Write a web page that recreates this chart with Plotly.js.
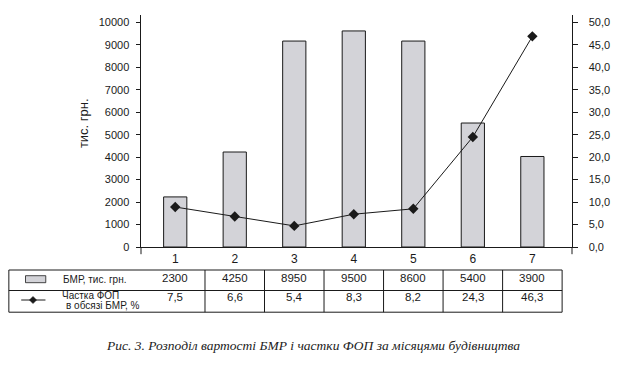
<!DOCTYPE html>
<html>
<head>
<meta charset="utf-8">
<script src="https://cdn.plot.ly/plotly-3.0.1.min.js"></script>
<style>
  html, body { margin: 0; padding: 0; background: #ffffff; }
  #chart { width: 618px; height: 366px; }
</style>
</head>
<body>
<div id="chart"></div>
<script>
// ---- data ----
const months = [1, 2, 3, 4, 5, 6, 7];
const monthLabels = ["1", "2", "3", "4", "5", "6", "7"];
// bar heights as drawn (тис. грн.)
const bmrBars = [2230, 4230, 9170, 9620, 9170, 5520, 4030];
// line points as drawn (%)
const fopLine = [8.9, 6.8, 4.7, 7.3, 8.5, 24.5, 46.9];
// values printed in the data table under the chart
const tableBmr = [2300, 4250, 8950, 9500, 8600, 5400, 3900];
const tableFop = [7.5, 6.6, 5.4, 8.3, 8.2, 24.3, 46.3];
const leftTicks = [0, 1000, 2000, 3000, 4000, 5000, 6000, 7000, 8000, 9000, 10000];
const rightTicks = [0, 5, 10, 15, 20, 25, 30, 35, 40, 45, 50];
const seriesBmrName = "БМР, тис. грн.";
const seriesFopName1 = "Частка ФОП";
const seriesFopName2 = "в обсязі БМР, %";
const yTitle = "тис. грн.";
const caption = "Рис. 3. Розподіл вартості БМР і частки ФОП за місяцями будівництва";

// ---- geometry ----
const W = 618, H = 366;
const L = 140.7, R = 45.5, T = 15.3, B = 118.7;
const plotW = W - L - R, plotH = H - T - B;
const xr = [0.425, 7.666];
const yr = [0, 10330];
const y2r = [0, 51.65];
const px = p => (p - L) / plotW;          // pixel x -> paper x
const py = p => (H - B - p) / plotH;      // pixel y -> paper y
const dx = v => (v - xr[0]) / (xr[1] - xr[0]); // data x -> paper x

const FONT = "Liberation Sans, Arial, sans-serif";
const INK = "#1a1a1a";
const BAR = "#d3d3d8";

const traces = [
  {
    type: "bar", x: months, y: bmrBars, width: 0.39,
    marker: { color: BAR, line: { color: INK, width: 1 } },
    hoverinfo: "skip"
  },
  {
    type: "scatter", mode: "lines+markers", x: months, y: fopLine, yaxis: "y2",
    line: { color: INK, width: 1 },
    marker: { symbol: "diamond", size: 8, color: INK },
    hoverinfo: "skip"
  }
];

// ---- table shapes ----
const tTop = 270.3, tMid = 290.8, tBot = 312.5, tLeft = 8.3;
const tRight = dx(7.5);
const shapes = [];
const hline = (yp) => shapes.push({ type: "line", xref: "paper", yref: "paper",
  x0: px(tLeft), x1: tRight, y0: py(yp), y1: py(yp), line: { color: INK, width: 1 } });
hline(tTop); hline(tMid); hline(tBot);
const vline = (xpaper) => shapes.push({ type: "line", xref: "paper", yref: "paper",
  x0: xpaper, x1: xpaper, y0: py(tTop), y1: py(tBot), line: { color: INK, width: 1 } });
vline(px(tLeft));
for (let i = 1; i <= 7; i++) vline(dx(months[i - 1] + 0.5));
// small cross marks at the axis ends (below the baseline)
shapes.push({ type: "line", xref: "paper", yref: "paper", x0: 0, x1: 0, y0: 0, y1: py(254.5), line: { color: INK, width: 1 } });
shapes.push({ type: "line", xref: "paper", yref: "paper", x0: 1, x1: 1, y0: 0, y1: py(254.5), line: { color: INK, width: 1 } });
// legend keys inside the table
shapes.push({ type: "rect", xref: "paper", yref: "paper",
  x0: px(25), x1: px(45.3), y0: py(276), y1: py(283), fillcolor: BAR, line: { color: INK, width: 0.8 } });
shapes.push({ type: "line", xref: "paper", yref: "paper",
  x0: px(20.7), x1: px(45), y0: py(300.3), y1: py(300.3), line: { color: INK, width: 1 } });
(function () {
  const cx = 32.5, cy = 300.3, h = 3.6;
  const pts = [[cx, cy - h], [cx + h, cy], [cx, cy + h], [cx - h, cy]];
  const d = "M" + pts.map(p => px(p[0]) + "," + py(p[1])).join(" L") + " Z";
  shapes.push({ type: "path", xref: "paper", yref: "paper", path: d, fillcolor: INK, line: { color: INK, width: 0.5 } });
})();

// ---- annotations ----
const fmt1 = v => v.toFixed(1).replace(".", ",");
const annotations = [];
months.forEach((m, i) => {
  annotations.push({ xref: "x", yref: "paper", x: m, y: py(278), text: String(tableBmr[i]),
    showarrow: false, xanchor: "center", yanchor: "middle", font: { family: FONT, size: 11.5, color: INK } });
  annotations.push({ xref: "x", yref: "paper", x: m, y: py(297), text: fmt1(tableFop[i]),
    showarrow: false, xanchor: "center", yanchor: "middle", font: { family: FONT, size: 11.5, color: INK } });
});
annotations.push({ xref: "paper", yref: "paper", x: px(61), y: py(279.5), text: seriesBmrName,
  showarrow: false, xanchor: "left", yanchor: "middle", font: { family: FONT, size: 10, color: INK } });
annotations.push({ xref: "paper", yref: "paper", x: px(59.5), y: py(295.3), text: seriesFopName1,
  showarrow: false, xanchor: "left", yanchor: "middle", font: { family: FONT, size: 10, color: INK } });
annotations.push({ xref: "paper", yref: "paper", x: px(63.5), y: py(305.5), text: seriesFopName2,
  showarrow: false, xanchor: "left", yanchor: "middle", font: { family: FONT, size: 10, color: INK } });
annotations.push({ xref: "paper", yref: "paper", x: px(83), y: py(123), text: yTitle, textangle: -90,
  showarrow: false, xanchor: "center", yanchor: "middle", font: { family: FONT, size: 13, color: INK } });
annotations.push({ xref: "paper", yref: "paper", x: px(313.5), y: py(345.5), text: "<i>" + caption + "</i>",
  showarrow: false, xanchor: "center", yanchor: "middle", font: { family: "Liberation Serif, Times New Roman, serif", size: 13.5, color: "#222" } });

const baseAxis = { showgrid: false, zeroline: false, showline: false, fixedrange: true };

const layout = {
  width: W, height: H,
  margin: { l: L, r: R, t: T, b: B, pad: 0 },
  paper_bgcolor: "#ffffff", plot_bgcolor: "rgba(0,0,0,0)",
  showlegend: false,
  separators: ", ",
  font: { family: FONT, color: INK },
  xaxis: Object.assign({}, baseAxis, {
    range: xr, tickvals: months, ticktext: monthLabels, ticks: "", showline: true,
    linecolor: INK, linewidth: 1, tickfont: { size: 12, color: INK }, ticklabelstandoff: 1
  }),
  yaxis: Object.assign({}, baseAxis, {
    range: yr, tickvals: leftTicks, tickformat: "d", ticks: "outside", ticklen: 4.5,
    tickcolor: INK, tickwidth: 1, showline: true, linecolor: INK, linewidth: 1,
    tickfont: { size: 11, color: INK }, ticklabelstandoff: 4
  }),
  yaxis3: Object.assign({}, baseAxis, {
    overlaying: "y", side: "left", range: yr, tickvals: leftTicks, ticks: "inside", ticklen: 4.5,
    tickcolor: INK, tickwidth: 1, showticklabels: false
  }),
  yaxis2: Object.assign({}, baseAxis, {
    overlaying: "y", side: "right", range: y2r, tickvals: rightTicks, tickformat: ".1f",
    ticks: "outside", ticklen: 4.5, tickcolor: INK, tickwidth: 1, showline: true,
    linecolor: INK, linewidth: 1, tickfont: { size: 11, color: INK }, ticklabelstandoff: 9
  }),
  yaxis4: Object.assign({}, baseAxis, {
    overlaying: "y", side: "right", range: y2r, tickvals: rightTicks, ticks: "inside", ticklen: 4.5,
    tickcolor: INK, tickwidth: 1, showticklabels: false
  }),
  shapes: shapes,
  annotations: annotations
};

Plotly.newPlot("chart", traces, layout, { staticPlot: true, displayModeBar: false });
</script>
</body>
</html>
